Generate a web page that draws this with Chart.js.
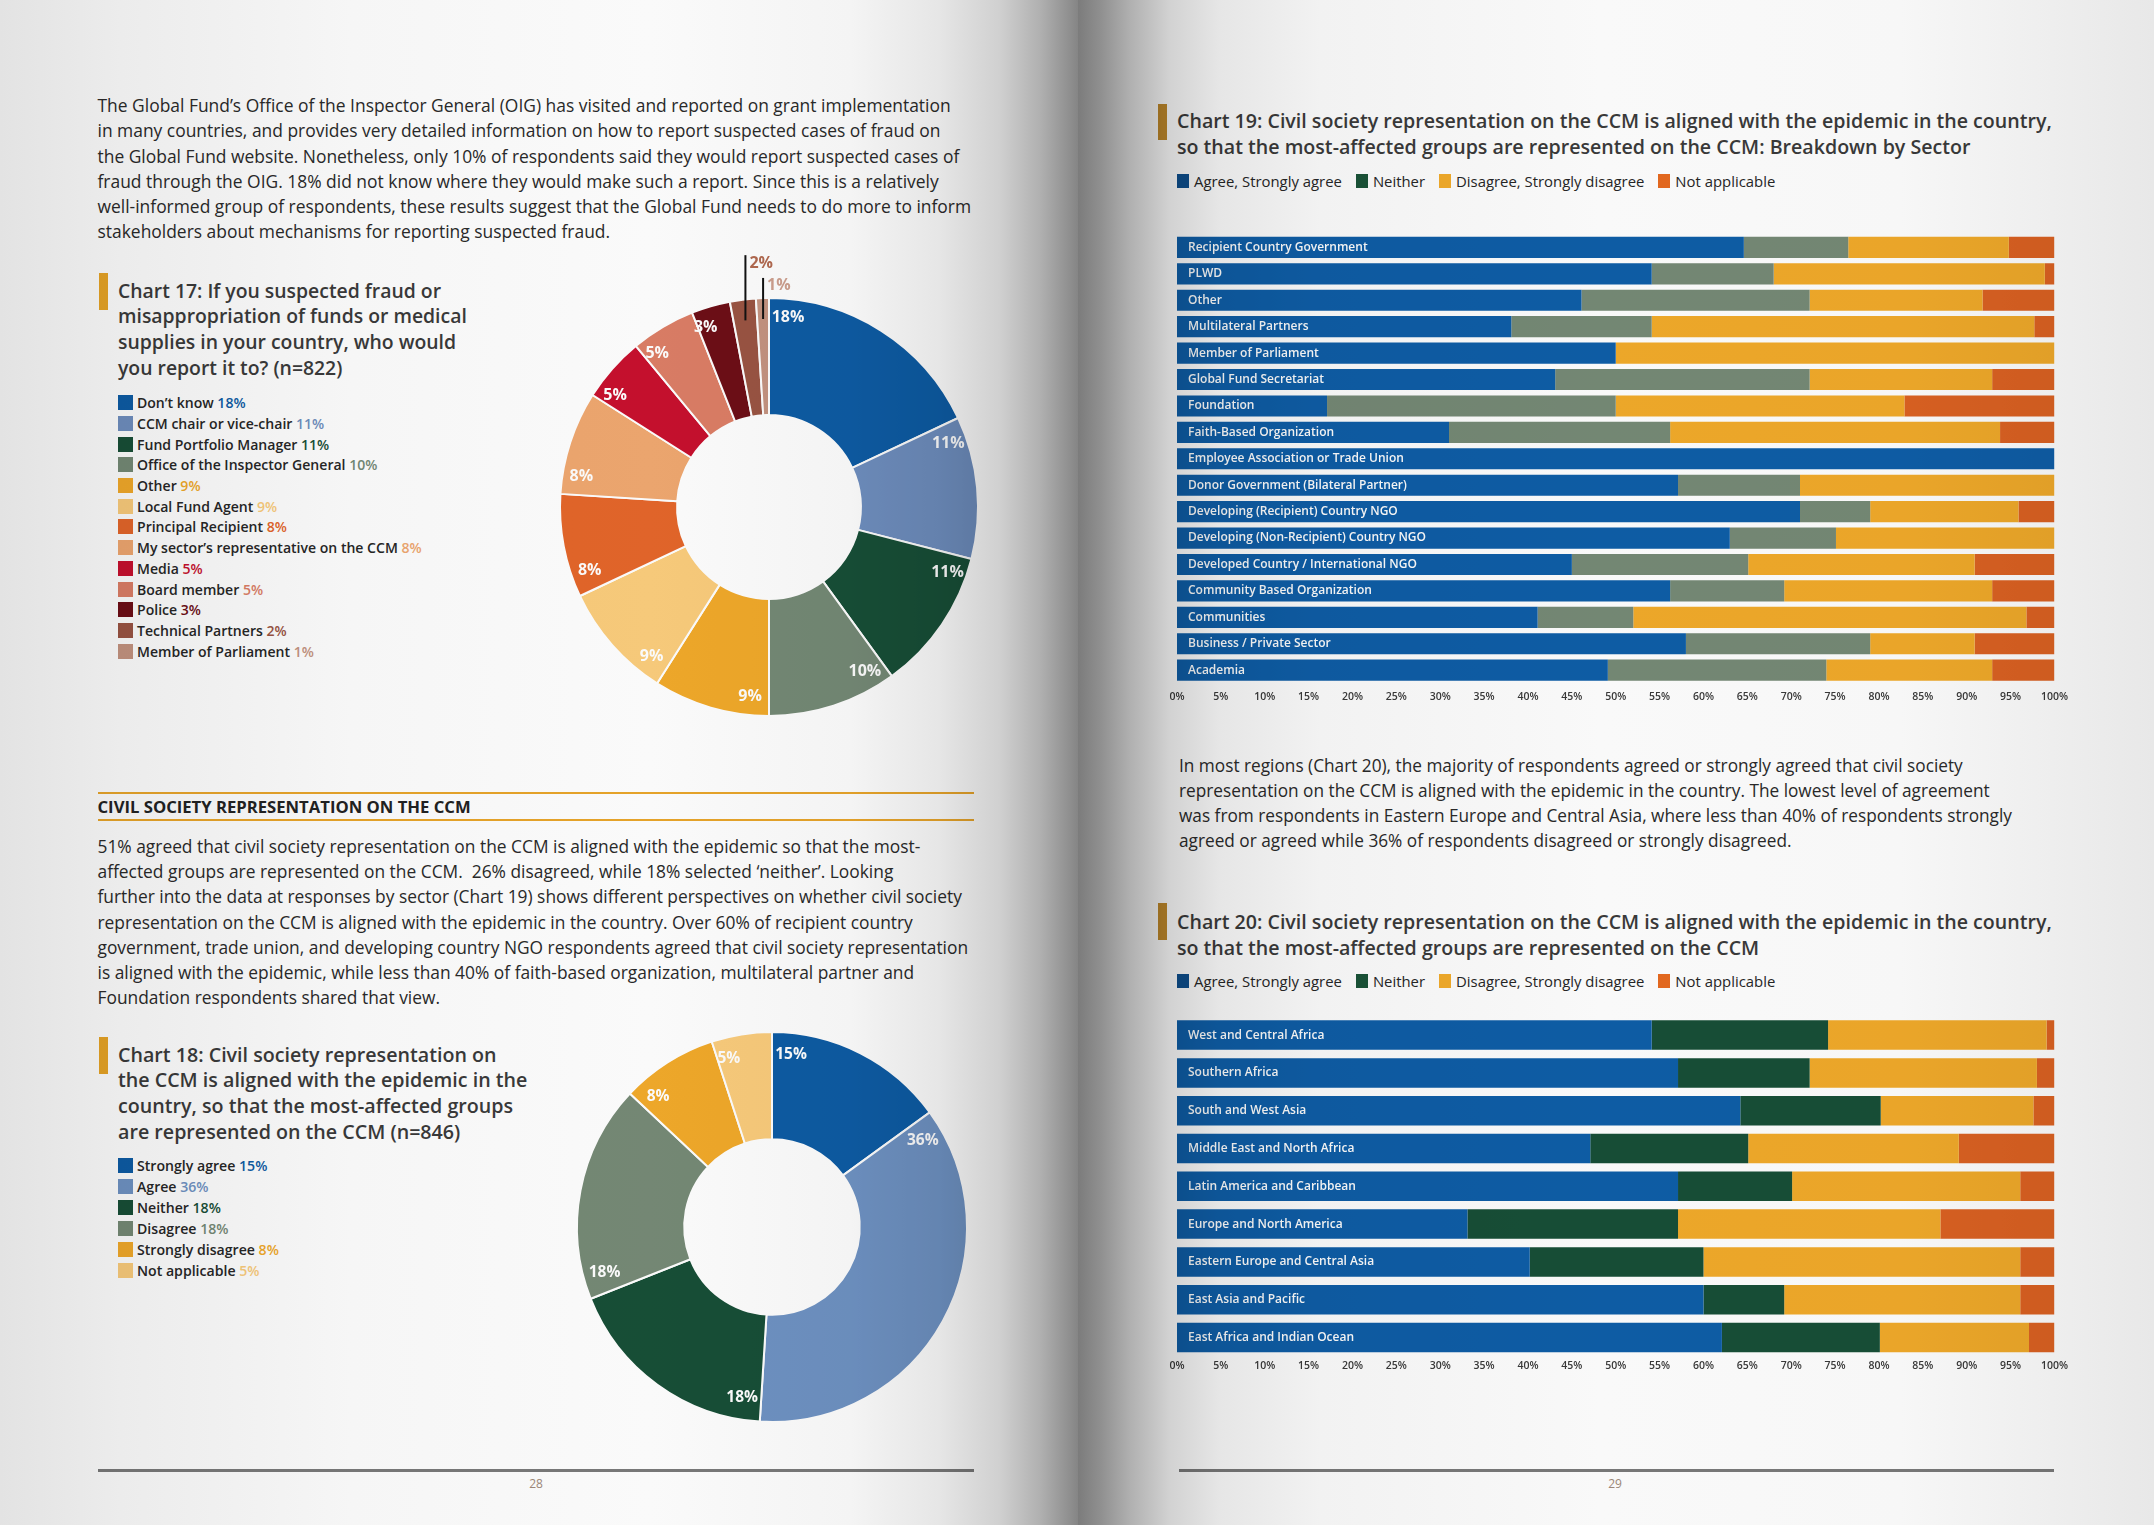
<!DOCTYPE html>
<html><head><meta charset="utf-8">
<script src="https://cdn.jsdelivr.net/npm/chart.js@4.4.1/dist/chart.umd.min.js"></script>
<style>
html,body{margin:0;padding:0;}
body{width:2154px;height:1525px;position:relative;overflow:hidden;background:#fff;font-family:"Open Sans","Noto Sans",sans-serif;color:#2c2c2c;}
.abs{position:absolute;}
.para{font-size:15.3px;line-height:25.3px;white-space:nowrap;color:#2a2a2a;}
.title{font-weight:600;white-space:nowrap;color:#3a3a3a;}
.tbarL{position:absolute;width:9px;background:#e9a526;}
.tbarR{position:absolute;width:9px;background:#c38b2b;}
.leg{font-size:14px;line-height:20.7px;white-space:nowrap;font-weight:600;color:#262626;}
.leg .sq{display:inline-block;width:15px;height:15px;vertical-align:-2px;margin-right:4px;}
.hleg{font-size:13.5px;line-height:20px;white-space:nowrap;color:#262626;display:flex;align-items:center;}
.hleg .it{display:flex;align-items:center;margin-right:14px;}
.hleg .sq{display:inline-block;width:12px;height:14px;margin-right:5px;}
.rule{position:absolute;height:2px;background:#eaa62a;}
.frule{position:absolute;height:3px;background:#7a7a7a;}
.pno{position:absolute;font-size:12px;line-height:16px;color:#a08a7a;width:40px;text-align:center;}
#shade{position:absolute;left:0;top:0;width:2154px;height:1525px;pointer-events:none;mix-blend-mode:multiply;
background:linear-gradient(to right,#e3e3e3 0%,#ececec 5.6%,#f6f6f6 16.3%,#fafafa 30.2%,#f4f4f4 39.5%,#e6e6e6 43.6%,#d0d0d0 46.4%,#b0b0b0 48.3%,#8e8e8e 49.7%,#858585 50.05%,#7c7c7c 50.06%,#8f8f8f 51.07%,#b0b0b0 52.46%,#d2d2d2 54.3%,#e6e6e6 56.6%,#f2f2f2 61.3%,#f9f9f9 74.3%,#f7f7f7 88.2%,#e8e8e8 100%);}
canvas{display:block;}
</style>
</head>
<body>

<!-- LEFT PAGE -->
<div id="p1" class="abs para" style="left:97.5px;top:93px;">
<div><span class="l">The Global Fund’s Office of the Inspector General (OIG) has visited and reported on grant implementation</span></div>
<div><span class="l">in many countries, and provides very detailed information on how to report suspected cases of fraud on</span></div>
<div><span class="l">the Global Fund website. Nonetheless, only 10% of respondents said they would report suspected cases of</span></div>
<div><span class="l">fraud through the OIG. 18% did not know where they would make such a report. Since this is a relatively</span></div>
<div><span class="l">well-informed group of respondents, these results suggest that the Global Fund needs to do more to inform</span></div>
<div><span class="l">stakeholders about mechanisms for reporting suspected fraud.</span></div>
</div>

<div class="tbarL" style="left:99px;top:273px;height:37px;"></div>
<div id="t17" class="abs title" style="left:118px;top:277.5px;font-size:17px;line-height:25.7px;">
<div><span class="l">Chart 17: If you suspected fraud or</span></div>
<div><span class="l">misappropriation of funds or medical</span></div>
<div><span class="l">supplies in your country, who would</span></div>
<div><span class="l">you report it to? (n=822)</span></div>
</div>
<div id="leg17" class="abs leg" style="left:118px;top:393.2px;"></div>
<div class="abs" style="left:509px;top:247px;width:520px;height:520px;"><canvas id="c17" width="520" height="520" style="width:520px;height:520px;"></canvas></div>

<div class="rule" style="left:97.5px;top:792px;width:876.5px;"></div>
<div id="hd" class="abs" style="left:97.5px;top:796.5px;font-size:14px;line-height:20px;font-weight:700;color:#222;white-space:nowrap;"><span class="l">CIVIL SOCIETY REPRESENTATION ON THE CCM</span></div>
<div class="rule" style="left:97.5px;top:819px;width:876.5px;"></div>

<div id="p2" class="abs para" style="left:97.5px;top:834px;line-height:25.2px;">
<div><span class="l">51% agreed that civil society representation on the CCM is aligned with the epidemic so that the most-</span></div>
<div><span class="l">affected groups are represented on the CCM.&nbsp; 26% disagreed, while 18% selected ‘neither’. Looking</span></div>
<div><span class="l">further into the data at responses by sector (Chart 19) shows different perspectives on whether civil society</span></div>
<div><span class="l">representation on the CCM is aligned with the epidemic in the country. Over 60% of recipient country</span></div>
<div><span class="l">government, trade union, and developing country NGO respondents agreed that civil society representation</span></div>
<div><span class="l">is aligned with the epidemic, while less than 40% of faith-based organization, multilateral partner and</span></div>
<div><span class="l">Foundation respondents shared that view.</span></div>
</div>

<div class="tbarL" style="left:99px;top:1037px;height:37px;"></div>
<div id="t18" class="abs title" style="left:118px;top:1041.5px;font-size:17px;line-height:25.7px;">
<div><span class="l">Chart 18: Civil society representation on</span></div>
<div><span class="l">the CCM is aligned with the epidemic in the</span></div>
<div><span class="l">country, so that the most-affected groups</span></div>
<div><span class="l">are represented on the CCM (n=846)</span></div>
</div>
<div id="leg18" class="abs leg" style="left:118px;top:1155px;line-height:21px;"></div>
<div class="abs" style="left:542px;top:997px;width:460px;height:460px;"><canvas id="c18" width="460" height="460" style="width:460px;height:460px;"></canvas></div>

<div class="frule" style="left:97.5px;top:1469px;width:876.5px;"></div>
<div class="pno" style="left:516px;top:1476px;">28</div>

<!-- RIGHT PAGE -->
<div class="tbarR" style="left:1158px;top:104px;height:36px;"></div>
<div id="t19" class="abs title" style="left:1177px;top:107.5px;font-size:16.5px;line-height:26px;">
<div><span class="l">Chart 19: Civil society representation on the CCM is aligned with the epidemic in the country,</span></div>
<div><span class="l">so that the most-affected groups are represented on the CCM: Breakdown by Sector</span></div>
</div>
<div id="leg19" class="abs hleg" style="left:1177px;top:171px;"></div>
<div id="w19" class="abs" style="left:1155px;top:224px;"><canvas id="c19" width="919" height="485" style="width:919px;height:485px;"></canvas></div>

<div id="p3" class="abs para" style="left:1179px;top:753px;line-height:25px;">
<div><span class="l">In most regions (Chart 20), the majority of respondents agreed or strongly agreed that civil society</span></div>
<div><span class="l">representation on the CCM is aligned with the epidemic in the country. The lowest level of agreement</span></div>
<div><span class="l">was from respondents in Eastern Europe and Central Asia, where less than 40% of respondents strongly</span></div>
<div><span class="l">agreed or agreed while 36% of respondents disagreed or strongly disagreed.</span></div>
</div>

<div class="tbarR" style="left:1158px;top:903px;height:37px;"></div>
<div id="t20" class="abs title" style="left:1177px;top:908.5px;font-size:16.5px;line-height:26px;">
<div><span class="l">Chart 20: Civil society representation on the CCM is aligned with the epidemic in the country,</span></div>
<div><span class="l">so that the most-affected groups are represented on the CCM</span></div>
</div>
<div id="leg20" class="abs hleg" style="left:1177px;top:971px;"></div>
<div id="w20" class="abs" style="left:1155px;top:1006px;"><canvas id="c20" width="919" height="368" style="width:919px;height:368px;"></canvas></div>

<div class="frule" style="left:1179px;top:1469px;width:875px;"></div>
<div class="pno" style="left:1595px;top:1476px;">29</div>

<div id="shade"></div>

<script>
// ---------------- DATA ----------------
const c17Labels = ['Don’t know','CCM chair or vice-chair','Fund Portfolio Manager','Office of the Inspector General','Other','Local Fund Agent','Principal Recipient','My sector’s representative on the CCM','Media','Board member','Police','Technical Partners','Member of Parliament'];
const c17Values = [18, 11, 11, 10, 9, 9, 8, 8, 5, 5, 3, 2, 1];

const c18Labels = ['Strongly agree','Agree','Neither','Disagree','Strongly disagree','Not applicable'];
const c18Values = [15, 36, 18, 18, 8, 5];

const responseLabels = ['Agree, Strongly agree','Neither','Disagree, Strongly disagree','Not applicable'];

const c19Categories = ['Recipient Country Government','PLWD','Other','Multilateral Partners','Member of Parliament','Global Fund Secretariat','Foundation','Faith-Based Organization','Employee Association or Trade Union','Donor Government (Bilateral Partner)','Developing (Recipient) Country NGO','Developing (Non-Recipient) Country NGO','Developed Country / International NGO','Community Based Organization','Communities','Business / Private Sector','Academia'];
const c19Agree    = [64.6, 54.1, 46.1, 38.1, 50.0, 43.1, 17.1, 31.0, 100, 57.1, 71.0, 63.0, 45.0, 56.2, 41.1, 58.0, 49.1];
const c19Neither  = [11.9, 13.9, 26.0, 16.0,  0.0, 29.0, 32.9, 25.2,   0, 13.9,  8.0, 12.1, 20.1, 13.0, 10.9, 21.0, 24.9];
const c19Disagree = [18.3, 30.9, 19.7, 43.6, 50.0, 20.8, 32.9, 37.6,   0, 29.0, 16.9, 24.9, 25.8, 23.7, 44.8, 11.9, 18.9];
const c19NA       = [ 5.2,  1.1,  8.2,  2.3,  0.0,  7.1, 17.1,  6.2,   0,  0.0,  4.1,  0.0,  9.1,  7.1,  3.2,  9.1,  7.1];

const c20Categories = ['West and Central Africa','Southern Africa','South and West Asia','Middle East and North Africa','Latin America and Caribbean','Europe and North America','Eastern Europe and Central Asia','East Asia and Pacific','East Africa and Indian Ocean'];
const c20Agree    = [54.1, 57.1, 64.2, 47.1, 57.1, 33.1, 40.2, 60.0, 62.1];
const c20Neither  = [20.1, 15.0, 16.0, 18.0, 13.0, 24.0, 19.8,  9.2, 18.0];
const c20Disagree = [24.9, 25.9, 17.4, 24.0, 26.0, 29.9, 36.1, 26.9, 17.0];
const c20NA       = [ 0.9,  2.0,  2.4, 10.9,  3.9, 13.0,  3.9,  3.9,  2.9];

const xTickSuffix = '%';

// ---------------- STYLES ----------------
const c17Colors = ['#0d5ca5','#6f8fc0','#174f37','#758a76','#f2aa2a','#fbcd7c','#e5662a','#f0a870','#c8102e','#dd7e66','#6e0e16','#9b5443','#c59481'];
const c18Colors = ['#0d5ca5','#6f93c4','#174f37','#768a76','#f2aa2a','#fbcd7c'];
const c19Colors = ['#0e5ea8','#768a76','#f2ab2a','#dd6222'];
const c20Colors = ['#0e5ea8','#174f37','#f2ab2a','#dd6222'];
const legendSwatch = ['#0e4f8e','#1a5438','#f4ad2b','#e86a1f'];

Chart.defaults.font.family = '"Open Sans","Noto Sans",sans-serif';

// ---------------- TEXT FIT ----------------
function fitBlock(id, idx, target) {
  const el = document.getElementById(id);
  const sp = el.querySelectorAll('span.l')[idx];
  const w = sp.getBoundingClientRect().width;
  const fs = parseFloat(getComputedStyle(el).fontSize);
  el.style.fontSize = (fs * target / w) + 'px';
}

// ---------------- LEGENDS ----------------
function buildListLegend(id, labels, values, colors) {
  const el = document.getElementById(id);
  labels.forEach((lab, i) => {
    const row = document.createElement('div');
    row.innerHTML = '<span class="sq" style="background:' + colors[i] + '"></span><span class="l">' + lab +
      ' <span style="color:' + colors[i] + '">' + values[i] + '%</span></span>';
    el.appendChild(row);
  });
}
function buildRowLegend(id, labels, colors) {
  const el = document.getElementById(id);
  labels.forEach((lab, i) => {
    const it = document.createElement('div');
    it.className = 'it';
    it.innerHTML = '<span class="sq" style="background:' + colors[i] + '"></span><span class="l">' + lab + '</span>';
    el.appendChild(it);
  });
}
buildListLegend('leg17', c17Labels, c17Values, c17Colors);
buildListLegend('leg18', c18Labels, c18Values, c18Colors);
buildRowLegend('leg19', responseLabels, legendSwatch);
buildRowLegend('leg20', responseLabels, legendSwatch);

fitBlock('p1', 0, 853.5);
fitBlock('p2', 4, 871);
fitBlock('p3', 2, 833.5);
fitBlock('t17', 1, 349);
fitBlock('t18', 1, 409.5);
fitBlock('t19', 0, 875);
fitBlock('t20', 0, 875);
fitBlock('leg17', 7, 285);
fitBlock('leg18', 4, 142);
fitBlock('hd', 0, 373.5);
fitBlock('leg19', 0, 148);
fitBlock('leg20', 0, 148);

// ---------------- DOUGHNUT LABEL PLUGIN ----------------
const sliceLabels = {
  id: 'sliceLabels',
  afterDatasetsDraw(chart, args, o) {
    const ctx = chart.ctx;
    const meta = chart.getDatasetMeta(0);
    const ds = chart.data.datasets[0];
    ctx.save();
    ctx.font = o.font;
    ctx.textBaseline = 'middle';
    let k = 0;
    meta.data.forEach((arc, i) => {
      const p = arc.getProps(['x','y','startAngle','endAngle','outerRadius'], true);
      const v = ds.data[i];
      const txt = v + '%';
      if (o.outsideMax && v <= o.outsideMax) {
        const mid = (p.startAngle + p.endAngle) / 2;
        const lx = p.x + Math.cos(mid) * p.outerRadius * o.lineFrom;
        const ly0 = p.y + Math.sin(mid) * p.outerRadius * o.lineFrom;
        const ly1 = p.y - p.outerRadius * o.lineTo[k];
        ctx.strokeStyle = '#111';
        ctx.lineWidth = 2;
        ctx.beginPath(); ctx.moveTo(lx, ly0); ctx.lineTo(lx, ly1); ctx.stroke();
        ctx.fillStyle = o.outsideColors[k];
        ctx.textAlign = 'left';
        ctx.fillText(txt, lx + 4, ly1 + 8);
        k++;
      } else {
        const span = p.endAngle - p.startAngle;
        const a = p.startAngle + Math.min(o.offset, span * 0.2);
        const r = p.outerRadius * o.radius;
        ctx.fillStyle = '#fff';
        ctx.textAlign = 'center';
        ctx.fillText(txt, p.x + Math.cos(a) * r, p.y + Math.sin(a) * r);
      }
    });
    ctx.restore();
  }
};

function doughnut(id, labels, values, colors, pad, cutout, labelOpts) {
  return new Chart(document.getElementById(id), {
    type: 'doughnut',
    data: { labels: labels, datasets: [{ data: values, backgroundColor: colors, borderColor: '#ffffff', borderWidth: 2, hoverOffset: 0 }] },
    options: {
      responsive: false, maintainAspectRatio: false, animation: false, events: [],
      cutout: cutout,
      layout: { padding: pad },
      plugins: { legend: { display: false }, tooltip: { enabled: false }, sliceLabels: labelOpts }
    },
    plugins: [sliceLabels]
  });
}

doughnut('c17', c17Labels, c17Values, c17Colors, 50, '44%', {
  font: 'bold 16px "Open Sans"', offset: 0.1, radius: 0.91,
  outsideMax: 2, lineFrom: 0.9, lineTo: [1.205, 1.096], outsideColors: ['#b36a50', '#cfa08f']
});
doughnut('c18', c18Labels, c18Values, c18Colors, 34, '45%', {
  font: 'bold 15.5px "Open Sans"', offset: 0.11, radius: 0.89, outsideMax: 0
});

// ---------------- STACKED BARS ----------------
function stacked(id, wrapId, cats, series, colors, barPct, tickPad, area) {
  const chart = new Chart(document.getElementById(id), {
    type: 'bar',
    data: {
      labels: cats,
      datasets: series.map((d, i) => ({ label: responseLabels[i], data: d, backgroundColor: colors[i], borderWidth: 0, barPercentage: barPct, categoryPercentage: 1 }))
    },
    options: {
      indexAxis: 'y', responsive: false, maintainAspectRatio: false, animation: false, events: [],
      layout: { padding: { left: 0, right: 0, top: 10, bottom: 0 } },
      plugins: { legend: { display: false }, tooltip: { enabled: false } },
      scales: {
        x: {
          stacked: true, min: 0, max: 100,
          grid: { display: false, drawTicks: false }, border: { display: false },
          ticks: { stepSize: 5, autoSkip: false, maxRotation: 0, minRotation: 0, padding: tickPad, color: '#3a3a3a',
                   font: { size: 10.5, weight: '600' }, callback: v => v + xTickSuffix }
        },
        y: {
          stacked: true,
          grid: { display: false, drawTicks: false }, border: { display: false },
          ticks: { mirror: true, padding: 11, color: '#ffffff', autoSkip: false, z: 1, font: { size: 12, weight: '600' } }
        }
      }
    }
  });
  for (let n = 0; n < 3; n++) {
    const a = chart.chartArea;
    const w = Math.round(chart.width + (area.w - (a.right - a.left)));
    const h = Math.round(chart.height + (area.h - (a.bottom - a.top)));
    if (w === chart.width && h === chart.height) break;
    chart.resize(w, h);
  }
  const a = chart.chartArea;
  const wrap = document.getElementById(wrapId);
  wrap.style.left = (area.x - a.left) + 'px';
  wrap.style.top = (area.y - a.top) + 'px';
  return chart;
}

stacked('c19', 'w19', c19Categories, [c19Agree, c19Neither, c19Disagree, c19NA], c19Colors, 0.8, 7,
        { x: 1177, y: 234, w: 877, h: 449 });
stacked('c20', 'w20', c20Categories, [c20Agree, c20Neither, c20Disagree, c20NA], c20Colors, 0.78, 3,
        { x: 1177, y: 1016, w: 877, h: 340 });
</script>
</body></html>
